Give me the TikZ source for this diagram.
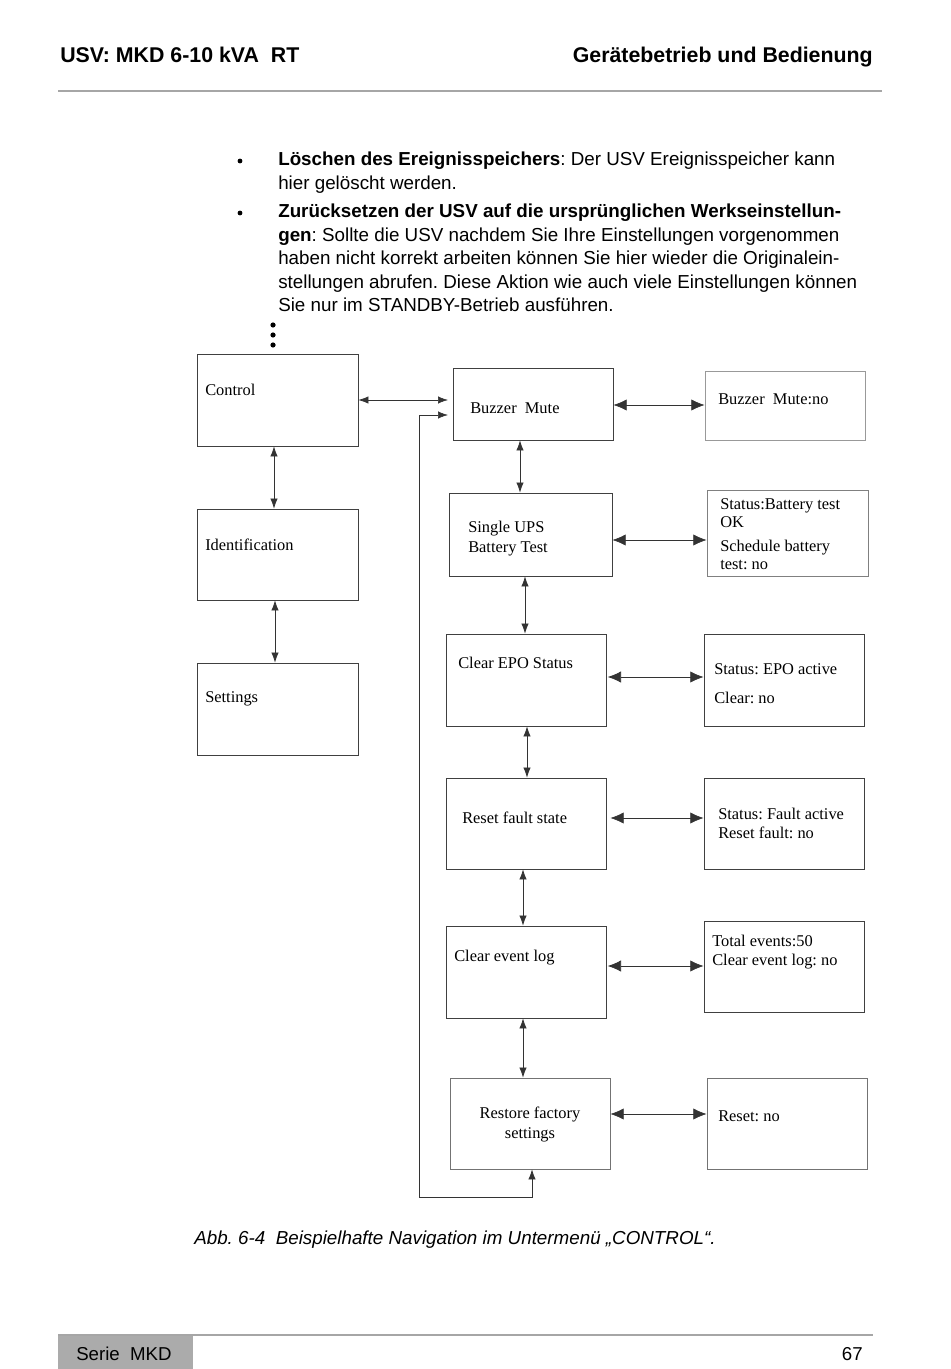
\documentclass[tikz,border=0pt]{standalone}
\usepackage{fontspec}
\setmainfont{Liberation Sans}
\newfontfamily\boxfont{Liberation Serif}
\usetikzlibrary{arrows.meta,fit}
\frenchspacing

\begin{document}
\begin{tikzpicture}[x=0.75pt,y=-0.75pt,
  box/.style={draw=black!75,line width=0.6pt,inner sep=0pt},
  lbl/.style={font=\boxfont\fontsize{12.3}{15}\selectfont,align=left,inner sep=0pt,anchor=west},
  link/.style={black!80,line width=0.5pt,{Latex[length=10pt,width=8.5pt]}-{Latex[length=10pt,width=8.5pt]}},
  slink/.style={black!80,line width=0.5pt,{Latex[length=7.5pt,width=5.5pt]}-{Latex[length=7.5pt,width=5.5pt]}},
  body/.style={font=\fontsize{14.1}{17.6}\selectfont,align=left,inner sep=0pt,anchor=north west}]
  \useasboundingbox[fill=white] (0,0) rectangle (950,1369);

  % page head
  \node[font=\bfseries\fontsize{16}{18}\selectfont,anchor=west,inner sep=0pt] (head) at (60,55) {USV: MKD 6-10 kVA\ \ RT};
  \node[font=\bfseries\fontsize{16}{18}\selectfont,anchor=east,inner sep=0pt] (chapter) at (873,57) {Gerätebetrieb und Bedienung};
  \draw[black!35,line width=0.8pt] (58,91) -- (882,91);

  % text above the picture
  \node[body] (item1) at (278,152) {\textbf{Löschen des Ereignisspeichers}: Der USV Ereignisspeicher kann\\
    hier gelöscht werden.};
  \node[body] (item2) at (278,204) {\textbf{Zurücksetzen der USV auf die ursprünglichen Werkseinstellun-}\\
    \textbf{gen}: Sollte die USV nachdem Sie Ihre Einstellungen vorgenommen\\
    haben nicht korrekt arbeiten können Sie hier wieder die Originalein-\\
    stellungen abrufen. Diese Aktion wie auch viele Einstellungen können\\
    Sie nur im STANDBY-Betrieb ausführen.};
  \fill (240,161) circle (2.4);
  \fill (240,213) circle (2.4);
  \foreach \y in {325,335,345}
    \fill (273,\y) circle (2.6);

  % menu boxes, left column
  \node[box,fit={(197,354) (358,446)}] (control) {};
  \node[box,fit={(197,509) (358,600)}] (ident) {};
  \node[box,fit={(197,663) (358,755)}] (settings) {};
  \node[lbl] at (205,390) {Control};
  \node[lbl] at (205,545) {Identification};
  \node[lbl] at (205,699) {Settings};

  % sub menu, middle column
  \node[box,fit={(453,368) (613,440)}] (mute) {};
  \node[box,fit={(449,493) (612,576)}] (battest) {};
  \node[box,fit={(446,634) (606,726)}] (epo) {};
  \node[box,fit={(446,778) (606,869)}] (fault) {};
  \node[box,fit={(446,926) (606,1018)}] (eventlog) {};
  \node[box,draw=black!55,fit={(450,1078) (610,1169)}] (factory) {};
  \node[lbl] at (470,408) {Buzzer\ \ Mute};
  \node[lbl] at (468,539) {Single UPS\\Battery Test};
  \node[lbl] at (458,663) {Clear EPO Status};
  \node[lbl] at (462,818) {Reset fault state};
  \node[lbl] at (454,958) {Clear event log};
  \node[lbl,align=center,anchor=center] at (530,1124) {Restore factory\\settings};

  % values, right column
  \node[box,draw=black!40,fit={(705,371) (865,440)}] (muteval) {};
  \node[box,draw=black!50,fit={(707,490) (868,576)}] (batval) {};
  \node[box,fit={(704,634) (864,726)}] (epoval) {};
  \node[box,fit={(704,778) (864,869)}] (faultval) {};
  \node[box,fit={(704,921) (864,1012)}] (logval) {};
  \node[box,draw=black!55,fit={(707,1078) (867,1169)}] (factval) {};
  \node[lbl] at (718,399) {Buzzer\ \ Mute:no};
  \node[lbl,font=\boxfont\fontsize{12.3}{13.5}\selectfont] at (720,534) {Status:Battery test\\OK\\[4.5pt]Schedule battery\\test: no};
  \node[lbl,font=\boxfont\fontsize{12.3}{13.5}\selectfont] at (714,684) {Status: EPO active\\[8pt]Clear: no};
  \node[lbl,font=\boxfont\fontsize{12.3}{14.3}\selectfont] at (718,823) {Status: Fault active\\Reset fault: no};
  \node[lbl,font=\boxfont\fontsize{12.3}{14.3}\selectfont] at (712,952) {Total events:50\\Clear event log: no};
  \node[lbl] at (718,1116) {Reset: no};

  % connectors
  \draw[slink] (control.south -| 274,0) -- (ident.north -| 274,0);
  \draw[slink] (ident.south -| 275,0) -- (settings.north -| 275,0);
  \draw[slink] (control.east |- 0,400) -- (448,400);
  \draw[slink] (mute.south -| 520,0) -- (battest.north -| 520,0);
  \draw[slink] (battest.south -| 525,0) -- (epo.north -| 525,0);
  \draw[slink] (epo.south -| 527,0) -- (fault.north -| 527,0);
  \draw[slink] (fault.south -| 523,0) -- (eventlog.north -| 523,0);
  \draw[slink] (eventlog.south -| 523,0) -- (factory.north -| 523,0);
  \draw[link] (mute.east |- 0,405) -- (muteval.west |- 0,405);
  \draw[link] (battest.east |- 0,540) -- (batval.west |- 0,540);
  \draw[link] ([xshift=1]epo.east |- 0,677) -- (epoval.west |- 0,677);
  \draw[link] ([xshift=3]fault.east |- 0,818) -- (faultval.west |- 0,818);
  \draw[link] ([xshift=1]eventlog.east |- 0,966) -- (logval.west |- 0,966);
  \draw[link] (factory.east |- 0,1114) -- (factval.west |- 0,1114);
  \coordinate (back) at (419,1197);
  \draw[slink] (448,415) -| (back) -| (factory.south -| 532,0);

  % caption and page foot
  \node[font=\itshape\fontsize{14.1}{16}\selectfont,anchor=west,inner sep=0pt] (caption) at (194,1240) {Abb. 6-4\ \ Beispielhafte Navigation im Untermenü „CONTROL“.};
  \draw[black!35,line width=0.8pt] (58,1335) -- (873,1335);
  \fill[black!33] (58,1336) rectangle (193,1369);
  \node[font=\fontsize{14}{16}\selectfont,anchor=west,inner sep=0pt] (series) at (76,1354) {Serie\ \ MKD};
  \node[font=\fontsize{14}{16}\selectfont,anchor=east,inner sep=0pt] (page) at (863,1354) {67};
\end{tikzpicture}
\end{document}
